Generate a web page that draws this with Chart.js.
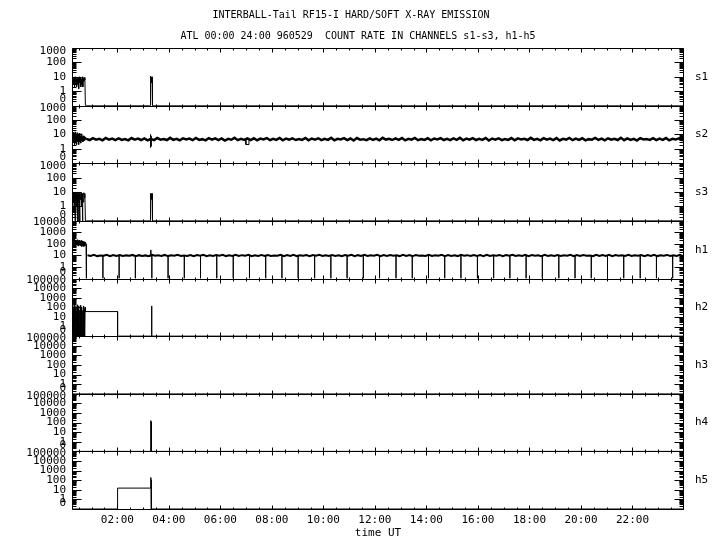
<!DOCTYPE html>
<html>
<head>
<meta charset="utf-8">
<script src="https://cdn.jsdelivr.net/npm/chart.js@4.4.1/dist/chart.umd.min.js"></script>
<style>
  body { margin: 0; background: #fff; }
  #wrap { width: 720px; height: 550px; }
</style>
</head>
<body>
<div id="wrap"><canvas id="chart" width="720" height="550"></canvas></div>
<script>
// titles / labels
var titleLines = ['INTERBALL-Tail RF15-I HARD/SOFT X-RAY EMISSION',
                  'ATL 00:00 24:00 960529  COUNT RATE IN CHANNELS s1-s3, h1-h5'];
var channels = ['s1', 's2', 's3', 'h1', 'h2', 'h3', 'h4', 'h5'];
var topValue = [1000, 1000, 1000, 10000, 100000, 100000, 100000, 100000];
var xMajor = [2, 4, 6, 8, 10, 12, 14, 16, 18, 20, 22];
var xLabels = ['02:00', '04:00', '06:00', '08:00', '10:00', '12:00', '14:00', '16:00', '18:00', '20:00', '22:00'];
var X_MIN = 0.24, X_MAX = 24;
var FLOOR = 0.1;   // zero counts sit on the panel floor

// [hour, count]; null count = break in the line
var s1 = [[0.24,6],[0.26,2],[0.28,9],[0.30,3],[0.32,8],[0.34,2],[0.36,10],[0.38,4],[0.40,7],[0.42,2],[0.44,9],
  [0.46,3],[0.48,8],[0.50,1.5],[0.52,10],[0.54,4],[0.56,9],[0.58,2],[0.60,7],[0.62,3],[0.64,10],[0.66,2],
  [0.68,8],[0.70,5],[0.72,9],[0.74,6],[0.76,0],
  [3.27,0],[3.28,11],[3.29,4],[3.30,9],[3.31,5],[3.32,10],[3.33,4],[3.34,8],[3.35,3],[3.36,10],[3.37,0],[24,0]];

var s2Head = [[0.24,8],[0.26,2],[0.28,14],[0.30,3],[0.32,12],[0.34,1.8],[0.36,15],[0.38,2.5],[0.40,10],[0.42,2],
  [0.44,13],[0.46,3],[0.48,9],[0.50,2],[0.52,12],[0.54,3],[0.56,8],[0.58,2.5],[0.60,11],[0.62,3.5],[0.64,7],
  [0.66,3],[0.68,8],[0.70,3.5],[0.72,7],[0.74,4],[0.76,6],[0.78,4.5]];
var s2Spikes = [[3.28,1.2],[3.29,10],[3.31,1.5],[3.32,8],[3.33,null],
  [6.99,4.4],[6.99,2],[7.11,2],[7.11,4.4]];
var s2Start = 0.8, s2Step = 0.125;
var s2Band = [
  4.9,4.1,5.5,4.3,5.0,3.9,5.7,4.4,5.2,4.0,5.4,4.2,4.8,3.9,5.6,4.3,
  5.1,4.1,5.3,3.9,5.0,4.0,5.6,4.3,4.8,4.1,5.8,4.2,5.0,3.9,5.4,4.5,
  5.2,4.0,5.7,4.2,4.7,3.9,5.5,4.4,5.3,4.1,5.3,3.8,5.0,4.3,5.8,4.0,
  4.9,4.2,5.4,4.1,5.4,3.9,5.1,4.5,5.6,4.0,4.9,4.2,5.7,3.9,5.2,4.3,
  5.4,4.1,4.8,4.2,5.7,3.9,5.2,4.4,5.4,4.0,4.9,4.2,5.8,3.9,5.0,4.5,
  5.5,4.1,5.2,3.8,5.6,4.3,4.7,4.0,5.3,4.2,5.1,3.9,5.8,4.4,4.9,4.1,
  5.3,4.2,5.6,3.9,5.0,4.3,5.7,4.0,4.8,4.2,5.4,3.9,5.2,4.5,5.6,4.1,
  4.9,4.0,5.4,4.2,5.8,3.9,5.1,4.3,5.5,4.1,4.9,4.2,5.7,3.8,5.2,4.4,
  5.4,4.0,4.8,4.2,5.6,3.9,5.3,4.5,5.0,4.1,5.8,4.2,4.9,3.9,5.5,4.3,
  5.2,4.1,5.6,3.8,4.9,4.4,5.7,4.0,5.2,4.2,5.4,3.9,4.7,4.3,5.7,4.2,
  5.1,3.9,5.4,4.3,4.9,4.1,5.8,4.0,5.3,4.2,5.0,3.8,5.6,4.5,4.8,4.2,
  5.5,4.0,5.2,4.2,5.6,3.9,4.9,4.4,5.4,4.1,5.2,4.2,5.3,4.0,5.1,4.3];

var s3 = [[0.24,5],[0.26,8],[0.28,2],[0.30,9],[0.32,1],[0.34,6],[0.36,0],[0.37,8],[0.39,3],[0.41,9],[0.43,1],
  [0.45,7],[0.47,0],[0.48,9],[0.50,2],[0.52,8],[0.54,0],[0.55,7],[0.57,3],[0.59,9],[0.61,1],[0.63,8],[0.65,0],
  [0.66,6],[0.68,2],[0.70,9],[0.72,4],[0.74,8],[0.76,0],
  [3.27,0],[3.28,8],[3.29,3],[3.30,7],[3.31,4],[3.32,8],[3.33,3],[3.34,7],[3.35,4],[3.36,8],[3.37,0],[24,0]];

var h1Head = [[0.24,350],[0.26,120],[0.28,400],[0.30,90],[0.32,250],[0.34,80],[0.36,220],[0.38,70],[0.40,200],
  [0.42,90],[0.44,230],[0.46,75],[0.48,190],[0.50,65],[0.52,210],[0.54,80],[0.56,180],[0.58,70],[0.60,200],
  [0.62,60],[0.64,170],[0.66,75],[0.68,160],[0.70,60],[0.72,150],[0.74,70],[0.76,140],[0.79,90],[0.80,0],[0.81,null],
  [3.29,9],[3.30,30],[3.31,9]];
var h1Start = 0.84, h1Step = 0.125;
var h1Band = [
  10.5,9.0,11.2,8.8,10.0,9.4,11.5,8.6,10.8,9.2,11.0,8.9,10.3,9.6,11.4,8.7,
  10.9,9.1,10.2,8.5,11.3,9.3,10.6,9.0,11.1,8.8,10.4,9.5,11.6,8.9,10.1,9.2,
  11.0,8.7,10.7,9.4,11.3,8.6,10.5,9.1,10.9,9.3,11.5,8.8,10.2,9.0,11.2,8.9,
  10.6,9.5,11.4,8.7,10.3,9.2,11.1,8.9,10.8,9.0,10.0,9.4,11.6,8.6,10.7,9.1,
  11.2,8.8,10.4,9.3,11.0,8.7,10.9,9.5,11.3,9.0,10.5,8.9,11.1,9.2,10.2,8.8,
  10.8,9.4,11.5,8.6,10.6,9.1,11.2,8.9,10.3,9.3,11.4,8.7,10.9,9.0,11.0,9.5,
  10.4,8.8,11.3,9.2,10.7,8.6,11.1,9.4,10.1,8.9,11.6,9.0,10.5,9.3,11.2,8.7,
  10.9,9.1,10.3,8.8,11.4,9.5,10.6,8.9,11.0,9.2,10.8,8.6,11.5,9.0,10.2,9.4,
  11.1,8.7,10.7,9.3,11.3,8.9,10.4,9.1,11.2,8.8,10.9,9.5,10.5,8.6,11.4,9.2,
  10.6,9.0,11.0,8.9,10.3,9.4,11.5,8.7,10.8,9.1,11.1,9.3,10.1,8.8,11.6,9.0,
  10.7,9.2,11.2,8.6,10.9,9.5,10.4,8.9,11.3,9.0,10.6,9.3,11.0,8.7,10.8,9.1,
  11.4,8.8,10.2,9.4,11.1,8.9,10.5,9.2,11.5,8.6,10.3,9.0,10.9,9.3,11.2,8.8];
// times where h1 drops to zero
var h1Drops = [1.44,2.07,2.70,3.34,3.97,4.60,5.23,5.86,6.50,7.13,7.76,8.39,9.02,9.66,10.29,10.92,11.55,
  12.18,12.82,13.45,14.08,14.71,15.34,15.98,16.61,17.24,17.87,18.50,19.14,19.77,20.40,21.03,21.66,22.30,22.93,23.56];

var h2 = [[0.24,80],[0.25,0],[0.265,150],[0.28,0],[0.295,60],[0.31,0],[0.325,200],[0.34,0],[0.355,90],[0.37,0],
  [0.385,120],[0.40,0],[0.415,40],[0.43,0],[0.445,180],[0.46,0],[0.475,70],[0.49,0],[0.505,130],[0.52,0],
  [0.535,50],[0.55,0],[0.565,160],[0.58,0],[0.595,90],[0.61,0],[0.625,110],[0.64,0],[0.655,45],[0.67,0],
  [0.685,140],[0.70,0],[0.715,60],[0.73,0],[0.745,100],[0.76,36],[2.01,36],[2.01,0],[3.32,0],[3.33,140],[3.34,0],[24,0]];
var h3 = [[0.24,0],[24,0]];
var h4 = [[0.24,0],[3.29,0],[3.30,160],[3.31,120],[3.32,0],[24,0]];
var h5 = [[0.24,0],[2.01,0],[2.01,15],[3.29,15],[3.30,190],[3.31,100],[3.32,0],[24,0]];

function band(start, step, vals) {
    return vals.map(function (v, k) { return [start + k * step, v]; });
}
var h1Gaps = [];
h1Drops.forEach(function (t) { h1Gaps.push([t, 10], [t, 0], [t, 10], [t, null]); });

// [channel, points, line width]
var layers = [
    ['s1', s1, 1],
    ['s2', band(s2Start, s2Step, s2Band), 2.5],
    ['s2', s2Head.concat([[0.79, null]], s2Spikes), 1],
    ['s3', s3, 1],
    ['h1', band(h1Start, h1Step, h1Band), 2],
    ['h1', h1Head.concat(h1Gaps), 1],
    ['h2', h2, 1],
    ['h3', h3, 1],
    ['h4', h4, 1],
    ['h5', h5, 1]
];

var MONO = 'DejaVu Sans Mono';
var PANEL_H = 57.5;
var zeroShift = [6, 6, 6, 6, 6, 6, 6, 6];   // px the "0" label sits above the floor
var topShift = [3, 3, 3, 1, 2, 2, 2, 2];    // px the top label sits below the top

function tickLabels(top) {
    var out = ['0'];
    for (var v = 1; v <= top; v *= 10) out.push(String(v));
    return out;
}

var scales = {
    x: {
        type: 'linear', min: X_MIN, max: X_MAX,
        grid: { display: false, drawTicks: false }, border: { display: false },
        afterBuildTicks: function (s) { s.ticks = xMajor.map(function (v) { return { value: v }; }); },
        ticks: { autoSkip: false, maxRotation: 0, padding: 5, color: '#000', font: { family: MONO, size: 11 },
                 callback: function (v, i) { return xLabels[i]; } },
        title: { display: true, text: 'time UT', color: '#000', font: { family: MONO, size: 11 }, padding: { top: 0, bottom: 10 } },
        afterFit: function (s) { s.height = 41; }
    }
};
// stacked axes are laid out top-down from the last one added, so add h5 first
channels.slice().reverse().forEach(function (ch) {
    var i = channels.indexOf(ch);
    var top = topValue[i];
    var ppd = PANEL_H / Math.log10(top / FLOOR);
    var labels = tickLabels(top);
    scales['y' + ch] = {
        type: 'logarithmic', position: 'left', stack: 'panels', stackWeight: 1,
        min: FLOOR, max: top,
        grid: { display: false, drawTicks: false }, border: { display: false },
        afterBuildTicks: function (s) {
            s.ticks = labels.map(function (t, k) {
                var v = k === 0 ? FLOOR * Math.pow(10, zeroShift[i] / ppd) : Number(t);
                if (k === labels.length - 1) v = top / Math.pow(10, topShift[i] / ppd);
                return { value: v };
            });
        },
        ticks: { autoSkip: false, padding: 6, color: '#000', font: { family: MONO, size: 11 },
                 callback: function (v, k) { return labels[k]; } },
        afterFit: function (s) { s.width = 72; }
    };
});

// panel frames, inward ticks, channel names and the two title lines
var framePlugin = {
    id: 'frame',
    afterDatasetsDraw: function (chart) {
        var ctx = chart.ctx, x = chart.scales.x;
        var L = Math.round(x.left) + 0.5, R = Math.round(x.right) - 0.5;
        ctx.save();
        ctx.strokeStyle = '#000';
        ctx.lineWidth = 1;
        channels.forEach(function (ch, i) {
            var y = chart.scales['y' + ch];
            var T = Math.round(y.top) + 0.5, B = Math.round(y.bottom) + 0.5;
            ctx.beginPath();
            ctx.rect(L, T, R - L, B - T);
            // log ticks on both sides
            for (var d = FLOOR; d < topValue[i] * 1.01; d *= 10) {
                for (var m = 1; m <= 9; m++) {
                    var v = d * m;
                    if (v > topValue[i] * 1.01) break;
                    var py = Math.round(y.getPixelForValue(v)) + 0.5;
                    var len = m === 1 ? 9 : 4;
                    ctx.moveTo(L, py); ctx.lineTo(L + len, py);
                    ctx.moveTo(R - len, py); ctx.lineTo(R, py);
                }
            }
            // time ticks every 30 min on top and bottom
            for (var t = 0.5; t < X_MAX; t += 0.5) {
                if (t < X_MIN) continue;
                var px = Math.round(x.getPixelForValue(t)) + 0.5;
                var tl = t % 2 === 0 ? 4 : 2;
                ctx.moveTo(px, T); ctx.lineTo(px, T + tl);
                ctx.moveTo(px, B - tl); ctx.lineTo(px, B);
            }
            ctx.stroke();
            ctx.fillStyle = '#000';
            ctx.font = '11px "' + MONO + '"';
            ctx.textAlign = 'left';
            ctx.textBaseline = 'middle';
            ctx.fillText(ch, 695, (y.top + y.bottom) / 2);
        });
        ctx.font = '10px "' + MONO + '"';
        ctx.textAlign = 'center';
        ctx.fillText(titleLines[0], 351, 15);
        ctx.fillText(titleLines[1], 358, 36);
        ctx.restore();
    }
};

var datasets = layers.map(function (l) {
    return {
        label: l[0],
        xAxisID: 'x',
        yAxisID: 'y' + l[0],
        data: l[1].map(function (p) {
            return { x: p[0], y: p[1] === null ? null : Math.max(p[1], FLOOR) };
        }),
        borderColor: '#000',
        borderWidth: l[2],
        pointRadius: 0,
        tension: 0,
        fill: false,
        spanGaps: false
    };
});

new Chart(document.getElementById('chart'), {
    type: 'line',
    data: { datasets: datasets },
    options: {
        responsive: false,
        animation: false,
        layout: { padding: { top: 48, right: 36, left: 0, bottom: 0 } },
        scales: scales,
        plugins: { legend: { display: false }, tooltip: { enabled: false }, title: { display: false } }
    },
    plugins: [framePlugin]
});
</script>
</body>
</html>
